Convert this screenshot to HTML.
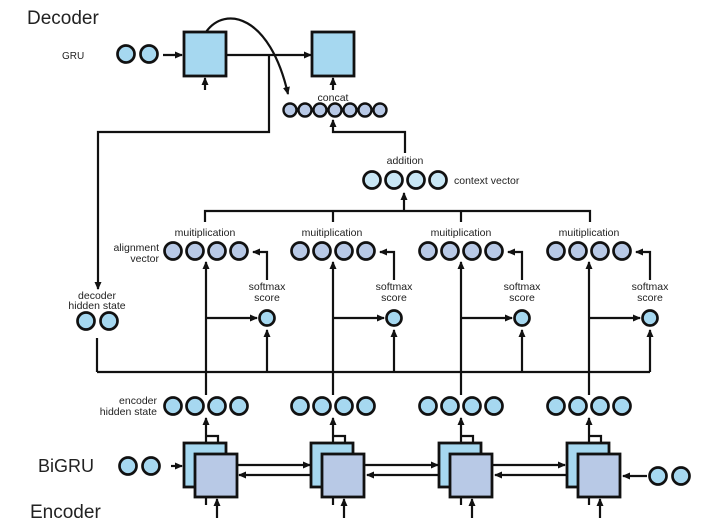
<!DOCTYPE html>
<html><head><meta charset="utf-8"><style>
html,body{margin:0;padding:0;background:#fff;}
svg{display:block;}
text{font-family:"Liberation Sans","DejaVu Sans",sans-serif;fill:#222;}
</style></head><body>
<svg width="706" height="527" viewBox="0 0 706 527" xmlns="http://www.w3.org/2000/svg">
<defs>
<marker id="a" markerWidth="8" markerHeight="8" refX="7" refY="4" orient="auto" markerUnits="userSpaceOnUse">
<path d="M0,0.5 L8,4 L0,7.5 Z" fill="#111"/></marker>
</defs>
<g stroke="#111" stroke-width="2.2" fill="none">
<line x1="163" y1="55" x2="182" y2="55" marker-end="url(#a)"/>
<line x1="226" y1="55" x2="311" y2="55" marker-end="url(#a)"/>
<line x1="205" y1="90" x2="205" y2="78" marker-end="url(#a)"/>
<line x1="333" y1="90" x2="333" y2="78" marker-end="url(#a)"/>
<path d="M206,32 C225,5 270,15 288,94" marker-end="url(#a)"/>
<polyline points="269,55 269,132 98,132 98,289" marker-end="url(#a)"/>
<polyline points="405,153 405,132 333,132 333,120" marker-end="url(#a)"/>
<line x1="404" y1="211" x2="404" y2="193" marker-end="url(#a)"/>
<polyline points="205,222 205,211 590,211 590,222"/>
<line x1="333" y1="211" x2="333" y2="222"/>
<line x1="461" y1="211" x2="461" y2="222"/>
<line x1="97" y1="338" x2="97" y2="372"/>
<line x1="97" y1="372" x2="650" y2="372"/>
</g>
<g stroke="#111" stroke-width="2.8">
<rect x="184" y="32" width="42" height="44" fill="#a6d8f0"/>
<rect x="312" y="32" width="42" height="44" fill="#a6d8f0"/>
</g>
<g stroke="#111" stroke-width="2.7" fill="#a6d8f0">
<circle cx="126" cy="54" r="8.5"/><circle cx="149" cy="54" r="8.5"/>
<circle cx="86" cy="321" r="8.5"/><circle cx="109" cy="321" r="8.5"/>
<circle cx="128" cy="466" r="8.5"/><circle cx="151" cy="466" r="8.5"/>
<circle cx="658" cy="476" r="8.5"/><circle cx="681" cy="476" r="8.5"/>
</g>
<g stroke="#111" stroke-width="2.4" fill="#b8c9e6">
<circle cx="290" cy="110" r="6.5"/><circle cx="305" cy="110" r="6.5"/><circle cx="320" cy="110" r="6.5"/><circle cx="335" cy="110" r="6.5"/><circle cx="350" cy="110" r="6.5"/><circle cx="365" cy="110" r="6.5"/><circle cx="380" cy="110" r="6.5"/>
</g>
<g stroke="#111" stroke-width="2.7" fill="#c9e7f5">
<circle cx="372" cy="180" r="8.5"/><circle cx="394" cy="180" r="8.5"/><circle cx="416" cy="180" r="8.5"/><circle cx="438" cy="180" r="8.5"/>
</g>
<g stroke="#111" stroke-width="2.2" fill="none">
<line x1="171" y1="466" x2="182" y2="466" marker-end="url(#a)"/>
<line x1="647" y1="476" x2="623" y2="476" marker-end="url(#a)"/>
</g>
<g id="g1">
<g stroke="#111" stroke-width="2.2" fill="none">
<line x1="206" y1="443" x2="206" y2="418" marker-end="url(#a)"/>
<polyline points="206,436 218,436 218,454"/>
<line x1="206" y1="395" x2="206" y2="262" marker-end="url(#a)"/>
<line x1="206" y1="318" x2="257" y2="318" marker-end="url(#a)"/>
<line x1="267" y1="372" x2="267" y2="330" marker-end="url(#a)"/>
<polyline points="267,280 267,252 253,252" marker-end="url(#a)"/>
<line x1="206" y1="487" x2="206" y2="505"/>
<line x1="217" y1="518" x2="217" y2="499" marker-end="url(#a)"/>
</g>
<g stroke="#111" stroke-width="2.8">
<rect x="184" y="443" width="42" height="44" fill="#a6d8f0"/>
<rect x="195" y="454" width="42" height="43" fill="#b8c9e6"/>
</g>
<g stroke="#111" stroke-width="2.7" fill="#b8c9e6">
<circle cx="173" cy="251" r="8.5"/><circle cx="195" cy="251" r="8.5"/><circle cx="217" cy="251" r="8.5"/><circle cx="239" cy="251" r="8.5"/>
</g>
<g stroke="#111" stroke-width="2.7" fill="#a6d8f0">
<circle cx="173" cy="406" r="8.5"/><circle cx="195" cy="406" r="8.5"/><circle cx="217" cy="406" r="8.5"/><circle cx="239" cy="406" r="8.5"/>
<circle cx="267" cy="318" r="7.5"/>
</g>
</g>
<use href="#g1" x="127"/>
<use href="#g1" x="255"/>
<use href="#g1" x="383"/>
<g stroke="#111" stroke-width="2.2" fill="none">
<line x1="237" y1="465" x2="310" y2="465" marker-end="url(#a)"/>
<line x1="312" y1="475" x2="239" y2="475" marker-end="url(#a)"/>
<line x1="365" y1="465" x2="438" y2="465" marker-end="url(#a)"/>
<line x1="440" y1="475" x2="367" y2="475" marker-end="url(#a)"/>
<line x1="493" y1="465" x2="565" y2="465" marker-end="url(#a)"/>
<line x1="567" y1="475" x2="495" y2="475" marker-end="url(#a)"/>
</g>
<text x="27" y="24" font-size="19">Decoder</text>
<text x="62" y="59" font-size="10">GRU</text>
<text x="333" y="101" font-size="10.5" text-anchor="middle">concat</text>
<text x="405" y="164" font-size="10.5" text-anchor="middle">addition</text>
<text x="454" y="184" font-size="10.5">context vector</text>
<text x="205" y="236" font-size="10.5" text-anchor="middle">muitiplication</text>
<text x="332" y="236" font-size="10.5" text-anchor="middle">muitiplication</text>
<text x="461" y="236" font-size="10.5" text-anchor="middle">muitiplication</text>
<text x="589" y="236" font-size="10.5" text-anchor="middle">muitiplication</text>
<text x="159" y="251" font-size="10.5" text-anchor="end">alignment</text>
<text x="159" y="262" font-size="10.5" text-anchor="end">vector</text>
<g font-size="10.5" text-anchor="middle">
<text x="267" y="290">softmax</text><text x="267" y="301">score</text>
<text x="394" y="290">softmax</text><text x="394" y="301">score</text>
<text x="522" y="290">softmax</text><text x="522" y="301">score</text>
<text x="650" y="290">softmax</text><text x="650" y="301">score</text>
<text x="97" y="299">decoder</text><text x="97" y="309">hidden state</text>
</g>
<text x="157" y="404" font-size="10.5" text-anchor="end">encoder</text>
<text x="157" y="415" font-size="10.5" text-anchor="end">hidden state</text>
<text x="38" y="472" font-size="18">BiGRU</text>
<text x="30" y="518" font-size="19">Encoder</text>
</svg>
</body></html>
